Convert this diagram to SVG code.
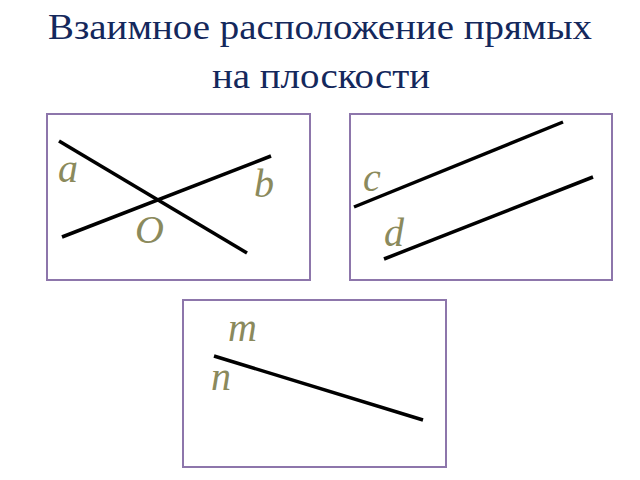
<svg xmlns="http://www.w3.org/2000/svg" width="640" height="480" viewBox="0 0 640 480">
<style>
.title{font-family:"Liberation Serif",serif;font-size:36px;fill:#14285c;text-anchor:middle}
.box{fill:#fff;stroke:#8d76ab;stroke-width:2}
.ln{stroke:#000;stroke-width:3.5;stroke-linecap:butt}
.lbl{font-family:"Liberation Serif",serif;font-style:italic;font-size:40px;fill:#8b8a5c}
</style>
<rect width="640" height="480" fill="#fff"/>
<g id="title">
<text class="title" x="320" y="39" textLength="544" lengthAdjust="spacingAndGlyphs">Взаимное расположение прямых</text>
<text class="title" x="321" y="88" textLength="218" lengthAdjust="spacingAndGlyphs">на плоскости</text>
</g>
<g id="panel-intersecting">
<rect class="box" x="47" y="114" width="263" height="166"/>
<line class="ln" x1="59" y1="141" x2="247" y2="253"/>
<line class="ln" x1="62" y1="237" x2="271" y2="156"/>
<text class="lbl" x="58" y="182">a</text>
<text class="lbl" x="254" y="197">b</text>
<text class="lbl" x="135" y="243">O</text>
</g>
<g id="panel-parallel">
<rect class="box" x="350" y="114" width="262" height="166"/>
<line class="ln" x1="354" y1="207" x2="563" y2="122"/>
<line class="ln" x1="384" y1="259" x2="593" y2="177"/>
<text class="lbl" x="363" y="191">c</text>
<text class="lbl" x="384" y="246">d</text>
</g>
<g id="panel-coincident">
<rect class="box" x="183" y="300" width="263" height="167"/>
<line class="ln" x1="214" y1="356" x2="423" y2="420"/>
<text class="lbl" x="228" y="341">m</text>
<text class="lbl" x="211" y="390">n</text>
</g>
</svg>
